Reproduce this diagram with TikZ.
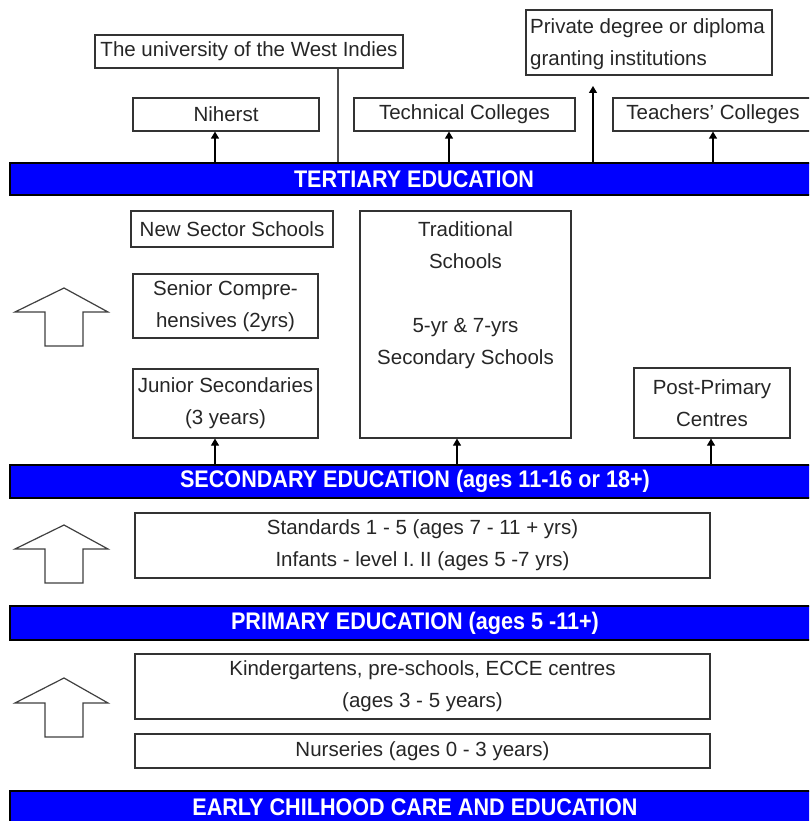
\documentclass[tikz,border=0pt]{standalone}
\usepackage{fontspec}
\setmainfont{Liberation Sans}
\newfontfamily\barfont[FakeStretch=0.9]{Liberation Sans}
\usetikzlibrary{arrows.meta}
\begin{document}
\begin{tikzpicture}[x=1pt,y=-1pt,
  box/.style={draw=black!80,line width=1.2pt,fill=white,inner sep=0pt,
    font=\fontsize{20.5}{32}\selectfont,text=black!85,align=center},
  bar/.style={draw=black,line width=1.2pt,fill=blue,inner sep=0pt,
    minimum width=810pt,text=white,font=\barfont\bfseries\fontsize{24}{28}\selectfont},
  arr/.style={draw=black,line width=1.2pt,-{Triangle[length=7pt,width=8pt]}},
  link/.style={draw=black!70,line width=1.4pt},
  bigarrow/.style={draw=black!75,line width=1.2pt,fill=white,line join=miter}]
\useasboundingbox (0,0) rectangle (809,821);
\fill[white] (0,0) rectangle (809,821);
\clip (0,0) rectangle (809,821);

% Tertiary level
\node[box,minimum width=308pt,minimum height=33pt] (uwi) at (249,51.5) {The university of the West Indies};
\node[box,minimum width=186pt,minimum height=33pt] (nih) at (226,114.5) {Niherst};
\node[box,minimum width=221pt,minimum height=33pt] (tech) at (464.5,114.5) {Technical Colleges};
\node[box,minimum width=200pt,minimum height=33pt] (teach) at (713,114.5) {Teachers' Colleges};
\node[box,minimum width=246pt,minimum height=65pt] (priv) at (649,42.5) {};
\node[font=\fontsize{20.5}{32}\selectfont,text=black!85,align=left,inner sep=0pt,anchor=west] (privtext) at (530,44) {Private degree or diploma\\granting institutions};
\node[bar,minimum height=32pt] (tert) at (415,179) {\hspace*{-2pt}TERTIARY EDUCATION};

\coordinate (xnih) at (215,0);
\coordinate (xuwi) at (338,0);
\coordinate (xtech) at (449,0);
\coordinate (xpriv) at (593,0);
\coordinate (xteach) at (713,0);
\coordinate (privend) at (593,86);
\draw[arr] (tert.north -| xnih) -- (nih.south -| xnih);
\draw[link] (uwi.south -| xuwi) -- (tert.north -| xuwi);
\draw[arr] (tert.north -| xtech) -- (tech.south -| xtech);
\draw[arr] (tert.north -| xpriv) -- (privend);
\draw[arr] (tert.north -| xteach) -- (teach.south -| xteach);

% Secondary level
\node[box,minimum width=202pt,minimum height=36pt] (nss) at (232,229) {New Sector Schools};
\node[box,minimum width=185pt,minimum height=64pt] (sen) at (225.5,306) {Senior Compre-\\hensives (2yrs)};
\node[box,minimum width=185pt,minimum height=69pt] (jun) at (225.5,403.5) {Junior Secondaries\\(3 years)};
\node[box,minimum width=211pt,minimum height=227pt] (trad) at (465.5,324.5) {};
\node[font=\fontsize{20.5}{32}\selectfont,text=black!85,align=center,inner sep=0pt] (tradtext) at (465.5,295) {Traditional\\Schools\\[32pt]5-yr \& 7-yrs\\Secondary Schools};
\node[box,minimum width=156pt,minimum height=70pt] (post) at (712,403) {Post-Primary\\Centres};
\node[bar,minimum height=33pt] (sec) at (415,481.5) {SECONDARY EDUCATION (ages 11-16 or 18+)};

\coordinate (xjun) at (215,0);
\coordinate (xtrad) at (457,0);
\coordinate (xpost) at (711,0);
\draw[arr] (sec.north -| xjun) -- (jun.south -| xjun);
\draw[arr] (sec.north -| xtrad) -- (trad.south -| xtrad);
\draw[arr] (sec.north -| xpost) -- (post.south -| xpost);

\draw[bigarrow] (64,288) -- (108,312) -- (83,312) -- (83,346) -- (45,346) -- (45,312) -- (15,312) -- cycle;

% Primary level
\node[box,minimum width=575pt,minimum height=65pt] (std) at (422.5,545.5) {Standards 1 - 5 (ages 7 - 11 + yrs)\\Infants - level I. II (ages 5 -7 yrs)};
\node[bar,minimum height=34pt] (prim) at (415,623) {PRIMARY EDUCATION (ages 5 -11+)};
\draw[bigarrow] (64,525) -- (108,549) -- (83,549) -- (83,583) -- (45,583) -- (45,549) -- (15,549) -- cycle;

% Early childhood
\node[box,minimum width=575pt,minimum height=65pt] (kin) at (422.5,686.5) {Kindergartens, pre-schools, ECCE centres\\(ages 3 - 5 years)};
\node[box,minimum width=575pt,minimum height=34pt] (nur) at (422.5,751) {Nurseries (ages 0 - 3 years)};
\node[bar,minimum height=32pt] (early) at (415,807) {EARLY CHILHOOD CARE AND EDUCATION};
\draw[bigarrow] (64,678) -- (108,703) -- (83,703) -- (83,737) -- (45,737) -- (45,703) -- (15,703) -- cycle;
\end{tikzpicture}
\end{document}
